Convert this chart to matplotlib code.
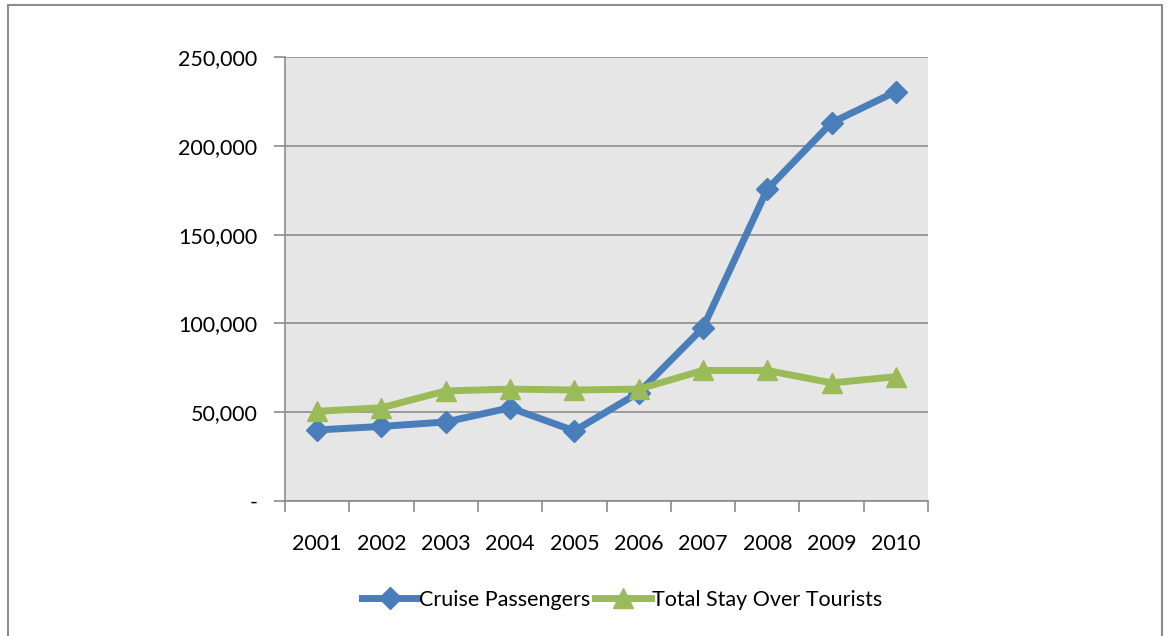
import matplotlib
matplotlib.use("Agg")
import matplotlib.pyplot as plt
from matplotlib.patches import Rectangle
from matplotlib.ticker import FuncFormatter
from matplotlib.lines import Line2D

years = ["2001", "2002", "2003", "2004", "2005", "2006", "2007", "2008", "2009", "2010"]
cruise = [40000, 42000, 44500, 52500, 39500, 61000, 97500, 175500, 213000, 230500]
stay_over = [50500, 52500, 62000, 63000, 62500, 63000, 73500, 73500, 66500, 70000]

blue = "#4a7ebb"
green = "#9bbb59"

plt.rcParams["font.family"] = ["Lato", "DejaVu Sans"]

fig = plt.figure(figsize=(11.7, 6.36), dpi=100)
fig.patches.append(Rectangle((8 / 1170, -0.1), 1154 / 1170, 1.1 - 5 / 636,
                             transform=fig.transFigure, fill=False,
                             edgecolor="#8c8c8c", linewidth=1.5))

ax = fig.add_axes([285 / 1170, 1 - 501 / 636, 643 / 1170, 444 / 636])
ax.set_facecolor("#e6e6e6")

x = list(range(len(years)))
ax.plot(x, cruise, color=blue, linewidth=5, marker="D", markersize=11,
        label="Cruise Passengers")
ax.plot(x, stay_over, color=green, linewidth=5, marker="^", markersize=14,
        label="Total Stay Over Tourists")

ax.set_xlim(-0.5, len(years) - 0.5)
ax.set_ylim(0, 250000)
ax.set_yticks(range(0, 250001, 50000))
ax.yaxis.set_major_formatter(FuncFormatter(lambda v, p: "-" if v == 0 else f"{int(v):,}"))
ax.grid(axis="y", color="#8c8c8c", linewidth=1.2)
ax.set_axisbelow(True)

ax.set_xticks([i - 0.5 for i in range(len(years) + 1)])
ax.set_xticklabels([])
ax.set_xticks(x, minor=True)
ax.set_xticklabels(years, minor=True)
ax.tick_params(axis="x", which="minor", length=0, pad=24, labelsize=15.5)
ax.tick_params(axis="x", which="major", length=8, color="#8c8c8c", width=1.2)
ax.tick_params(axis="y", length=8, color="#8c8c8c", width=1.2, labelsize=15.5, pad=12)

for side in ["top", "right"]:
    ax.spines[side].set_visible(False)
for side in ["left", "bottom"]:
    ax.spines[side].set_color("#8c8c8c")
    ax.spines[side].set_linewidth(1.2)

handles = [Line2D([], [], color=blue, linewidth=5, marker="D", markersize=11),
           Line2D([], [], color=green, linewidth=5, marker="^", markersize=14)]
fig.legend(handles, ["Cruise Passengers", "Total Stay Over Tourists"],
           loc="center", bbox_to_anchor=(622 / 1170, 1 - 600 / 636), ncol=2,
           frameon=False, fontsize=15.5, handlelength=2.6, handletextpad=0.05,
           columnspacing=0.2, numpoints=1)

fig.savefig("out.png", dpi=100)
